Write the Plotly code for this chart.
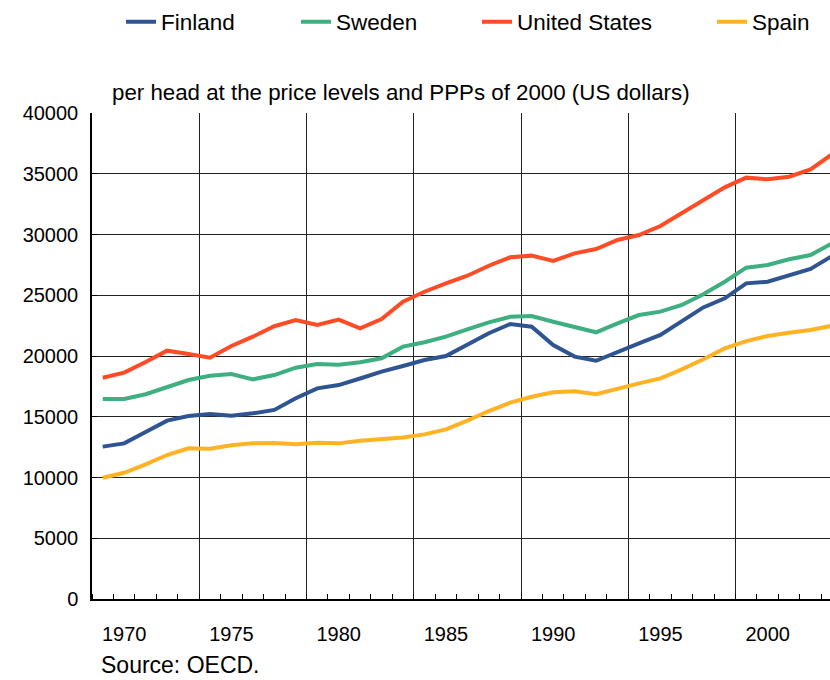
import plotly.graph_objects as go

years = list(range(1969, 2004))
finland = [12540, 12810, 13740, 14680, 15060, 15230, 15090, 15280, 15560, 16520,
           17340, 17610, 18150, 18710, 19180, 19670, 20000, 20900, 21870, 22630,
           22410, 20900, 19950, 19610, 20350, 21040, 21730, 22820, 24000, 24750,
           25980, 26110, 26610, 27160, 28230]
sweden = [16460, 16460, 16850, 17470, 18020, 18380, 18520, 18080, 18430, 19040,
          19340, 19290, 19480, 19810, 20770, 21130, 21590, 22200, 22770, 23230,
          23290, 22820, 22410, 21950, 22690, 23370, 23650, 24200, 25080, 26110,
          27270, 27490, 27960, 28310, 29270]
united_states = [18210, 18630, 19500, 20440, 20160, 19860, 20820, 21590, 22450, 22960,
                 22550, 23000, 22280, 23040, 24470, 25290, 25980, 26610, 27430, 28120,
                 28260, 27820, 28450, 28800, 29550, 29960, 30700, 31740, 32760, 33880,
                 34680, 34540, 34760, 35360, 36600]
spain = [9980, 10390, 11080, 11850, 12400, 12370, 12650, 12810, 12840, 12730,
         12860, 12810, 13030, 13170, 13300, 13550, 13960, 14680, 15470, 16160,
         16650, 17010, 17090, 16850, 17340, 17750, 18160, 18900, 19730, 20630,
         21230, 21650, 21920, 22140, 22490]

tick_years = [1970, 1975, 1980, 1985, 1990, 1995, 2000]
y_ticks = list(range(0, 40001, 5000))
y_tick_labels = [str(v) for v in y_ticks]

series = [
    ("Finland", finland, "#2E5592", "legend"),
    ("Sweden", sweden, "#3DAF80", "legend2"),
    ("United States", united_states, "#FF4B26", "legend3"),
    ("Spain", spain, "#FFB224", "legend4"),
]

FONT = "Liberation Sans, Arial, sans-serif"

fig = go.Figure()
for name, vals, color, leg in series:
    fig.add_trace(go.Scatter(x=years, y=vals, name=name, mode="lines",
                             line=dict(color=color, width=4), legend=leg))

# helper trace for the boundary gridline axis
fig.add_trace(go.Scatter(x=[years[0]], y=[None], xaxis="x2", showlegend=False,
                         hoverinfo="skip", mode="lines"))

L, W, T, B, WIDTH, HEIGHT = 92, 738, 113, 81, 830, 680
H = HEIGHT - T - B
x_end = 1968.5 + W / 21.45


def px2paper(px):
    return (px - L) / W


def py2paper(py):
    return (HEIGHT - B - py) / H


leg_common = dict(orientation="h", yanchor="middle", y=1 - 22 / HEIGHT,
                  xanchor="left", xref="container", yref="container",
                  bgcolor="rgba(0,0,0,0)", font=dict(family=FONT, size=22.5, color="#000"),
                  itemwidth=30)

fig.update_layout(
    width=WIDTH, height=HEIGHT,
    margin=dict(l=L, r=0, t=T, b=B),
    paper_bgcolor="white", plot_bgcolor="white",
    font=dict(family=FONT, size=20, color="#000"),
    legend=dict(x=121 / WIDTH, **leg_common),
    legend2=dict(x=296 / WIDTH, **leg_common),
    legend3=dict(x=477 / WIDTH, **leg_common),
    legend4=dict(x=712 / WIDTH, **leg_common),
    xaxis=dict(range=[1968.5, x_end], tickvals=tick_years, ticks="", showgrid=False,
               showline=True, linecolor="#000", linewidth=1.5, zeroline=False,
               ticklabelstandoff=16, automargin=False,
               tickfont=dict(family=FONT, size=20, color="#000"),
               minor=dict(tick0=1968.5, dtick=1, ticks="inside", ticklen=5,
                          tickcolor="#000", showgrid=False)),
    xaxis2=dict(overlaying="x", matches="x", tick0=1968.5, dtick=5, showgrid=True,
                gridcolor="#222", gridwidth=1, showticklabels=False, ticks="",
                showline=False, zeroline=False, automargin=False),
    yaxis=dict(range=[0, 40000], tickvals=y_ticks, ticktext=y_tick_labels,
               showgrid=True, gridcolor="#222",
               gridwidth=1, ticks="inside", ticklen=5, tickcolor="#000",
               showline=True, linecolor="#000", linewidth=1.5, zeroline=False,
               ticklabelstandoff=8, automargin=False,
               tickfont=dict(family=FONT, size=20, color="#000")),
    annotations=[
        dict(text="per head at the price levels and PPPs of 2000 (US dollars)",
             xref="paper", yref="paper", x=px2paper(110), y=py2paper(93),
             xanchor="left", yanchor="middle", showarrow=False,
             font=dict(family=FONT, size=22.3, color="#000")),
        dict(text="Source: OECD.", xref="paper", yref="paper", x=px2paper(99),
             y=py2paper(665), xanchor="left", yanchor="middle", showarrow=False,
             font=dict(family=FONT, size=23, color="#000")),
    ],
)

fig.write_html("out.html",
               config={"displayModeBar": False},
               post_script="document.body.style.margin='0';"
                           "document.body.style.overflow='hidden';")
